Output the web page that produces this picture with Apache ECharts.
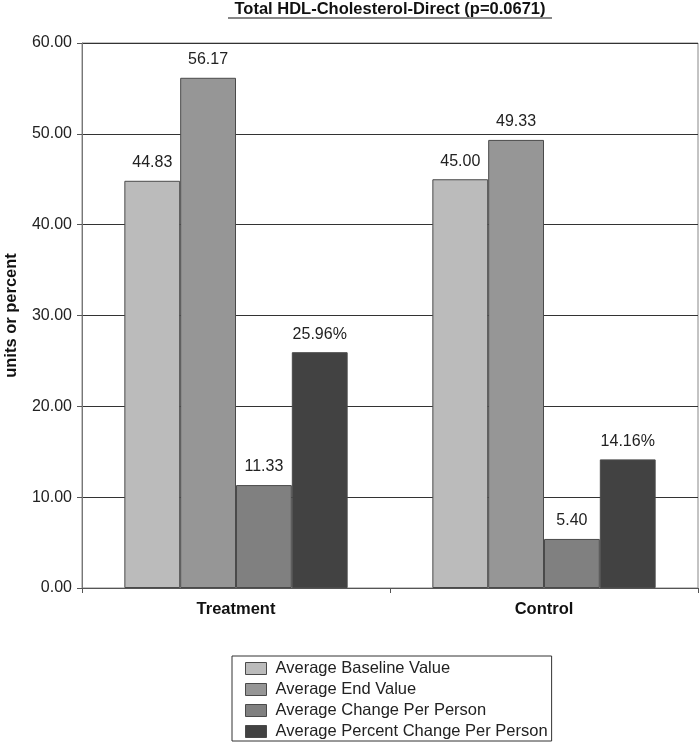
<!DOCTYPE html>
<html>
<head>
<meta charset="utf-8">
<script src="https://cdn.jsdelivr.net/npm/echarts@6/dist/echarts.min.js"></script>
<style>html,body{margin:0;padding:0;background:#fff;}#c{width:700px;height:743px;}</style>
</head>
<body>
<div id="c"></div>
<script>
var categories = ['Treatment', 'Control'];
var seriesNames = ['Average Baseline Value', 'Average End Value', 'Average Change Per Person', 'Average Percent Change Per Person'];
var baseline = [44.83, 45.00];
var endValue = [56.17, 49.33];
var changePerPerson = [11.33, 5.40];
var percentChange = [25.96, 14.16];
var yTicks = [0, 10, 20, 30, 40, 50, 60];

var colors = ['#bbbbbb', '#969696', '#808080', '#424242'];
var FONT = '"Liberation Sans", Arial, sans-serif';
var chart = echarts.init(document.getElementById('c'));

function mk(name, data, color, suffix) {
  return {
    name: name, type: 'bar', data: data, barGap: '0%', barCategoryGap: '27.5%',
    itemStyle: { color: color, borderColor: '#4a4a4a', borderWidth: 1 },
    label: {
      show: true, position: 'top', distance: 10, fontFamily: FONT, fontSize: 16, color: '#222',
      formatter: function (p) { return p.value.toFixed(2) + suffix; }
    }
  };
}

chart.setOption({
  animation: false,
  color: colors,
  title: {
    text: 'Total HDL-Cholesterol-Direct (p=0.0671)',
    left: 390, textAlign: 'center', top: 1, padding: 0,
    textStyle: { fontFamily: FONT, fontSize: 16.5, fontWeight: 'bold', color: '#111' }
  },
  graphic: [{
    type: 'line', shape: { x1: 228, y1: 18, x2: 552, y2: 18 },
    style: { stroke: '#111', lineWidth: 1.2 }
  }],
  grid: { left: 82, right: 2, top: 43, bottom: 155, show: true, borderColor: '#888', borderWidth: 1, containLabel: false, outerBoundsMode: 'none' },
  legend: {
    orient: 'vertical', left: 232, top: 656, height: 120, width: 400,
    data: seriesNames,
    borderColor: '#333', borderWidth: 1, padding: [4, 4, 1, 13],
    itemWidth: 21, itemHeight: 12, itemGap: 4,
    icon: 'rect',
    itemStyle: { borderColor: '#4a4a4a', borderWidth: 1 },
    textStyle: { fontFamily: FONT, fontSize: 16.5, color: '#222', padding: [0, 0, 0, 4] }
  },
  xAxis: {
    type: 'category', data: categories,
    axisLine: { lineStyle: { color: '#555', width: 1 } },
    axisTick: { show: true, length: 5, lineStyle: { color: '#555' } },
    axisLabel: { fontFamily: FONT, fontSize: 16.5, fontWeight: 'bold', color: '#111', margin: 13 }
  },
  yAxis: {
    type: 'value', min: yTicks[0], max: yTicks[yTicks.length - 1], interval: 10,
    name: 'units or percent', nameLocation: 'middle', nameGap: 62,
    nameTextStyle: { fontFamily: FONT, fontSize: 16.5, fontWeight: 'bold', color: '#111' },
    axisLine: { show: true, lineStyle: { color: '#777' } },
    axisTick: { show: true, length: 5, lineStyle: { color: '#555' } },
    axisLabel: { fontFamily: FONT, fontSize: 16, color: '#222', margin: 10, formatter: function (v) { return v.toFixed(2); } },
    splitLine: { lineStyle: { color: '#333', width: 1 } }
  },
  series: [
    mk(seriesNames[0], baseline, colors[0], ''),
    mk(seriesNames[1], endValue, colors[1], ''),
    mk(seriesNames[2], changePerPerson, colors[2], ''),
    mk(seriesNames[3], percentChange, colors[3], '%')
  ]
});
</script>
</body>
</html>
